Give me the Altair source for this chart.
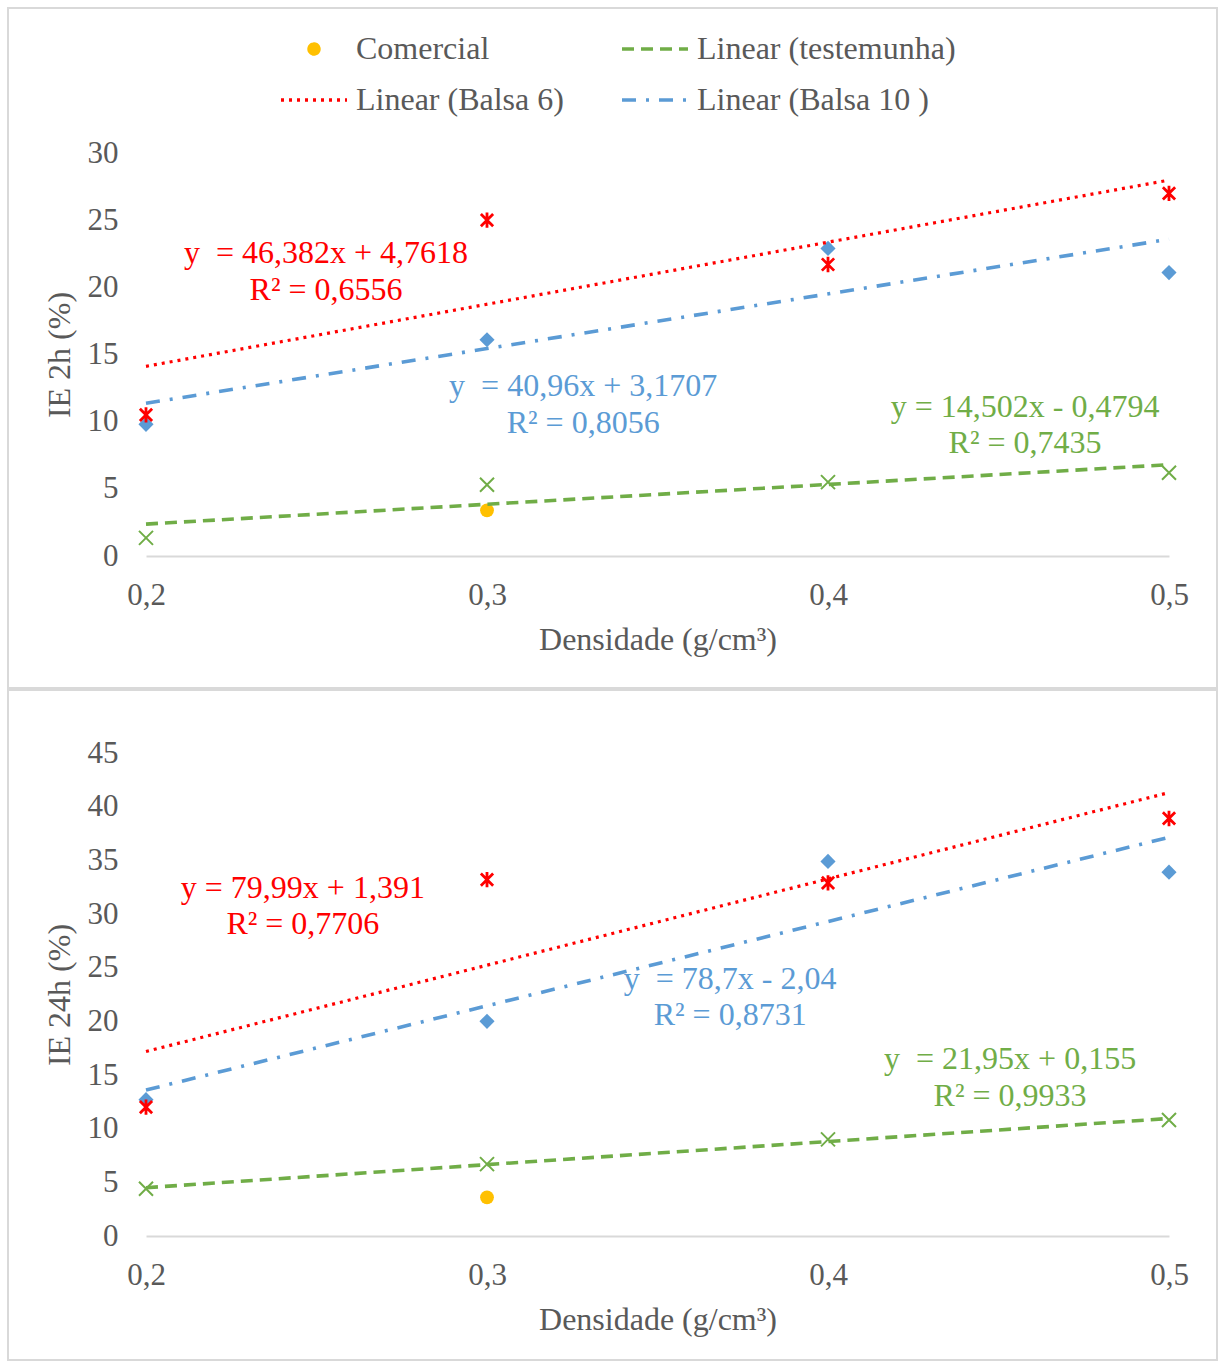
import altair as alt
import pandas as pd

# ---------------- data ----------------
densidade = [0.2, 0.3, 0.4, 0.5]
comercial_densidade = [0.3]

ie2h_testemunha = [1.35, 5.3, 5.5, 6.2]
ie2h_balsa6 = [10.5, 25.0, 21.7, 27.0]
ie2h_balsa10 = [9.8, 16.1, 22.9, 21.1]
ie2h_comercial = [3.4]

ie24h_testemunha = [4.4, 6.7, 9.0, 10.8]
ie24h_balsa6 = [12.0, 33.2, 32.9, 38.9]
ie24h_balsa10 = [12.7, 20.0, 34.9, 33.9]
ie24h_comercial = [3.6]

x_ticks = [0.2, 0.3, 0.4, 0.5]
y2h_ticks = [0, 5, 10, 15, 20, 25, 30]
y24h_ticks = [0, 5, 10, 15, 20, 25, 30, 35, 40, 45]

# legend entries (column-major order: first column, then second column)
legend_labels = ["Comercial", "Linear (Balsa 6)", "Linear (testemunha)", "Linear (Balsa 10 )"]
legend_series = ["comercial", "balsa6", "testemunha", "balsa10"]

eq2h_text = ["y\u00a0 = 46,382x + 4,7618", "R² = 0,6556",
             "y\u00a0 = 40,96x + 3,1707", "R² = 0,8056",
             "y = 14,502x - 0,4794", "R² = 0,7435"]
eq2h_serie = ["balsa6", "balsa6", "balsa10", "balsa10", "testemunha", "testemunha"]
eq2h_x = [0.2528, 0.2528, 0.3282, 0.3282, 0.4578, 0.4578]
eq2h_y = [22.56, 19.80, 12.66, 9.90, 11.09, 8.41]

eq24h_text = ["y = 79,99x + 1,391", "R² = 0,7706",
              "y\u00a0 = 78,7x - 2,04", "R² = 0,8731",
              "y\u00a0 = 21,95x + 0,155", "R² = 0,9933"]
eq24h_serie = ["balsa6", "balsa6", "balsa10", "balsa10", "testemunha", "testemunha"]
eq24h_x = [0.2460, 0.2460, 0.3713, 0.3713, 0.4534, 0.4534]
eq24h_y = [32.42, 29.07, 23.94, 20.59, 16.49, 13.04]

# ---------------- styles ----------------
FONT = "Liberation Serif"
GRAY = "#595959"
FRAME = "#d9d9d9"
COLORS = {"testemunha": "#70ad47", "balsa6": "#ff0000", "balsa10": "#5b9bd5", "comercial": "#ffc000"}
DASH = {"testemunha": [12, 7], "balsa6": [3, 5], "balsa10": [14, 10, 3, 10], "comercial": [1, 0]}
ASTERISK = "M-1,-1L1,1M-1,1L1,-1M0,-1.25L0,1.25"
XSHAPE = "M-1,-1L1,1M-1,1L1,-1"
SMALL_DOT = "M0.15,0A0.15,0.15 0 1,1 -0.15,0A0.15,0.15 0 1,1 0.15,0Z"
LINE_SYM = "M-1,0L1,0"

PLOT_W = 1023


def long_df(testemunha, balsa6, balsa10, comercial):
    rows = []
    for name, vals in (("testemunha", testemunha), ("balsa6", balsa6), ("balsa10", balsa10)):
        for x, y in zip(densidade, vals):
            rows.append({"x": x, "y": y, "serie": name})
    for x, y in zip(comercial_densidade, comercial):
        rows.append({"x": x, "y": y, "serie": "comercial"})
    return pd.DataFrame(rows)


def panel(df, ytitle, yticks, eq_text, eq_serie, eq_x, eq_y, height, frame_top, frame_bottom, with_legend):
    xenc = alt.X("x:Q", title="Densidade (g/cm³)",
                 scale=alt.Scale(domain=[x_ticks[0], x_ticks[-1]], nice=False, zero=False),
                 axis=alt.Axis(values=x_ticks, labelExpr="replace(format(datum.value, '.1f'), '.', ',')",
                               grid=False, ticks=False, domainColor=FRAME, domainWidth=2,
                               labelFont=FONT, labelFontSize=31, labelColor=GRAY, labelPadding=24,
                               labelFlush=False, titleFont=FONT, titleFontSize=32, titleColor=GRAY,
                               titleFontWeight="normal", titlePadding=14))
    yenc = alt.Y("y:Q", title=ytitle,
                 scale=alt.Scale(domain=[yticks[0], yticks[-1]], nice=False),
                 axis=alt.Axis(values=yticks, grid=False, ticks=False, domain=False,
                               labelFont=FONT, labelFontSize=31, labelColor=GRAY, labelPadding=28,
                               labelFlush=False, titleFont=FONT, titleFontSize=32, titleColor=GRAY,
                               titleFontWeight="normal", titlePadding=11))
    base = alt.Chart(df)
    layers = []
    frame = alt.Chart(pd.DataFrame({"k": [0]})).mark_rect(
        fill="transparent", stroke=FRAME, strokeWidth=2).encode(
        x=alt.value(-138), x2=alt.value(1071), y=alt.value(frame_top), y2=alt.value(frame_bottom))
    layers.append(frame)

    pt_specs = {
        "balsa10": dict(shape="diamond", filled=True, size=230, color=COLORS["balsa10"], opacity=1),
        "balsa6": dict(shape=ASTERISK, filled=False, size=150, strokeWidth=2.8, color=COLORS["balsa6"], opacity=1),
        "testemunha": dict(shape=XSHAPE, filled=False, size=196, strokeWidth=2, color=COLORS["testemunha"], opacity=1),
        "comercial": dict(shape="circle", filled=True, size=190, color=COLORS["comercial"], opacity=1),
    }
    for s, spec in pt_specs.items():
        layers.append(base.transform_filter(f"datum.serie == '{s}'").mark_point(**spec).encode(x=xenc, y=yenc))

    for s in ("balsa6", "balsa10", "testemunha"):
        layers.append(
            base.transform_filter(f"datum.serie == '{s}'")
            .transform_regression("x", "y", method="linear")
            .mark_line(color=COLORS[s], strokeDash=DASH[s], strokeWidth=3.2 if s == "balsa6" else 3.6)
            .encode(x=xenc, y=yenc)
        )

    eq_df = pd.DataFrame({"text": eq_text, "serie": eq_serie, "x": eq_x, "y": eq_y})
    for s in ("balsa6", "balsa10", "testemunha"):
        layers.append(
            alt.Chart(eq_df).transform_filter(f"datum.serie == '{s}'")
            .mark_text(font=FONT, fontSize=32, color=COLORS[s], align="center", baseline="middle")
            .encode(x=xenc, y=yenc, text="text:N")
        )

    if with_legend:
        def sc(rng):
            return alt.Scale(domain=legend_labels, range=rng)
        leg = alt.Legend(orient="none", legendX=133, legendY=-139, columns=2, columnPadding=0,
                         rowPadding=-15, gridAlign="all", labelFont=FONT, labelFontSize=32, labelColor=GRAY,
                         labelOffset=7, symbolStrokeWidth=3.5, symbolSize=4356, padding=0, labelLimit=0)
        legend_layer = (
            alt.Chart(pd.DataFrame({"entry": legend_labels}))
            .transform_filter("false")
            .mark_point(filled=False, opacity=1)
            .encode(
                color=alt.Color("entry:N", title=None, legend=leg,
                                scale=sc([COLORS[s] for s in legend_series])),
                fill=alt.Fill("entry:N", title=None, legend=leg,
                              scale=sc([COLORS[s] if s == "comercial" else "transparent" for s in legend_series])),
                shape=alt.Shape("entry:N", title=None, legend=leg,
                                scale=sc([SMALL_DOT if s == "comercial" else LINE_SYM for s in legend_series])),
                strokeDash=alt.StrokeDash("entry:N", title=None, legend=leg,
                                          scale=sc([DASH[s] for s in legend_series])),
            )
        )
        layers.append(legend_layer)

    return alt.layer(*layers).properties(width=PLOT_W, height=height)


top = panel(long_df(ie2h_testemunha, ie2h_balsa6, ie2h_balsa10, ie2h_comercial),
            "IE 2h (%)", y2h_ticks, eq2h_text, eq2h_serie, eq2h_x, eq2h_y,
            403, -145, 535, True)
bottom = panel(long_df(ie24h_testemunha, ie24h_balsa6, ie24h_balsa10, ie24h_comercial),
               "IE 24h (%)", y24h_ticks, eq24h_text, eq24h_serie, eq24h_x, eq24h_y,
               483, -63, 607, False)

chart = (
    alt.vconcat(top, bottom, spacing=0)
    .resolve_scale(y="independent")
    .properties(padding={"left": 7, "top": 7, "right": 0, "bottom": 0}, background="white")
    .configure_view(stroke=None)
)

chart.save("out.html", embed_options={"renderer": "svg", "actions": False})
